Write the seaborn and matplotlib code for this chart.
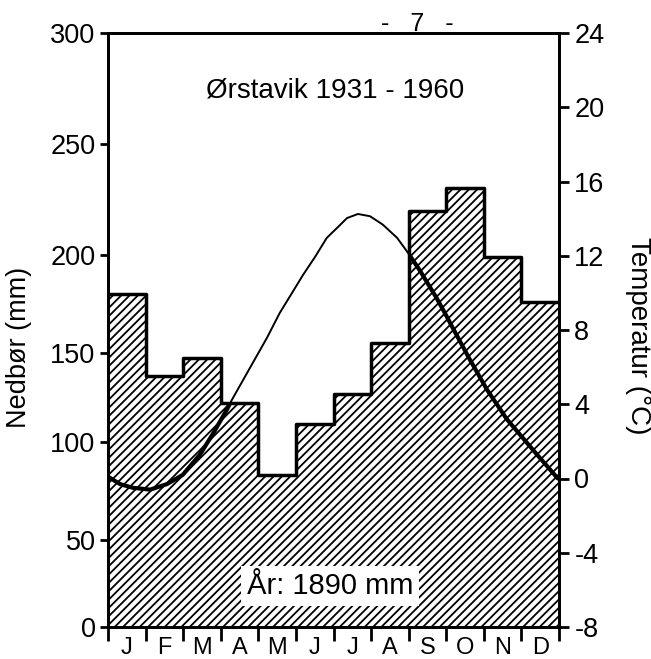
import numpy as np
import pandas as pd
import matplotlib
matplotlib.use("Agg")
import matplotlib.pyplot as plt
from matplotlib.patches import Polygon
import seaborn as sns

# monthly precipitation (mm)
months = ["J", "F", "M", "A", "M", "J", "J", "A", "S", "O", "N", "D"]
precip_mm = [180, 137, 147, 122, 83, 110, 127, 155, 220, 230, 199, 176]

# temperature curve (position in months from 1 Jan, deg C)
temp_pos = [0.0, 0.32, 0.66, 1.12, 1.57, 1.99, 2.45, 2.79, 3.16, 3.30, 3.78,
            4.23, 4.57, 4.84, 5.19, 5.51, 5.82, 6.09, 6.36, 6.65, 6.97, 7.31,
            7.69, 7.95, 8.30, 8.75, 9.02, 9.15, 9.63, 10.08, 10.61, 11.41, 11.97]
temp_c = [0.1, -0.3, -0.5, -0.6, -0.3, 0.2, 1.3, 2.4, 3.7, 4.25, 5.97,
          7.58, 8.92, 9.81, 10.97, 11.94, 12.96, 13.49, 14.03, 14.25, 14.13, 13.68,
          12.97, 12.25, 11.2, 9.7, 8.7, 8.2, 6.4, 4.8, 3.2, 1.3, 0.0]

precip_ticks = [0, 50, 100, 150, 200, 250, 300]
# where each precipitation tick sits on the (unevenly drawn) left axis, 0..1
precip_tick_frac = [0.0, 0.1465, 0.3114, 0.4613, 0.6263, 0.8131, 1.0]
temp_ticks = [-8, -4, 0, 4, 8, 12, 16, 20, 24]

title = "Ørstavik 1931 - 1960"
year_text = "År: 1890 mm"

sns.set_style("ticks")
plt.rcParams['font.family'] = ['Liberation Sans', 'DejaVu Sans']
plt.rcParams['hatch.linewidth'] = 1.3
plt.rcParams['axes.unicode_minus'] = False
for key in ('text.color', 'axes.labelcolor', 'xtick.color', 'ytick.color',
            'axes.edgecolor'):
    plt.rcParams[key] = 'black'

# piecewise-linear scale for the left axis
_mm = [-300] + precip_ticks + [600]
_fr = [-1.0] + precip_tick_frac + [2.0]


def mm_fwd(v):
    return np.interp(v, _mm, _fr)


def mm_inv(v):
    return np.interp(v, _fr, _mm)


fig = plt.figure(figsize=(6.51, 6.59), dpi=100)
ax = fig.add_axes([108 / 651, 1 - 627 / 659, 451 / 651, 594 / 659])

df = pd.DataFrame({'month': range(12), 'precip': precip_mm})
sns.barplot(data=df, x='month', y='precip', ax=ax, width=1.0, color='white',
            saturation=1, edgecolor='black', linewidth=0, hatch='////',
            errorbar=None)
ax.set_yscale('function', functions=(mm_fwd, mm_inv))

# outer step outline of the bars
edges = np.arange(13) - 0.5
ax.step(edges, precip_mm + [precip_mm[-1]], where='post', color='black', lw=2.5)

ax.set_xlim(-0.5, 11.5)
ax.set_ylim(0, 300)
ax.set_yticks(precip_ticks, labels=[str(t) for t in precip_ticks])
ax.yaxis.set_minor_locator(matplotlib.ticker.NullLocator())
ax.set_xticks(edges, labels=[''] * 13)
ax.set_xticks(range(12), labels=months, minor=True)
ax.tick_params(axis='x', which='major', length=10, width=2, direction='out')
ax.tick_params(axis='x', which='minor', length=0, pad=7, labelsize=17)
ax.tick_params(axis='y', length=6, width=2, pad=3, labelsize=19.5)
ax.set_xlabel('')
ax.set_ylabel('Nedbør (mm)', fontsize=19.5)
ax.yaxis.set_label_coords(-0.168, 0.47)

# temperature on the right axis
ax2 = ax.twinx()
tx = np.array(temp_pos) - 0.5
sns.lineplot(x=tx, y=temp_c, ax=ax2, color='black', lw=1.4, sort=False)
# heavier line where the curve runs through the hatched area
verts = [(-0.5, 0)]
for i, p in enumerate(precip_mm):
    verts += [(i - 0.5, p), (i + 0.5, p)]
verts += [(11.5, 0)]
clip = Polygon(verts, closed=True, transform=ax.transData)
thick, = ax2.plot(tx, temp_c, color='black', lw=3)
thick.set_clip_path(clip)

ax2.set_ylim(-8, 24)
ax2.set_yticks(temp_ticks)
ax2.tick_params(axis='y', length=7, width=2, pad=4, labelsize=19.5)
ax2.set_ylabel('Temperatur (°C)', fontsize=20, rotation=270, va='bottom')
ax2.yaxis.set_label_coords(1.146, 0.49)
ax.set_xlim(-0.5, 11.5)

for a in (ax, ax2):
    for s in a.spines.values():
        s.set_linewidth(2)
        s.set_color('black')

ax.text(0.503, 0.892, title, transform=ax.transAxes, ha='center',
        va='baseline', fontsize=20)
ax.text(0.492, 0.069, year_text, transform=ax.transAxes, ha='center',
        va='center', fontsize=21,
        bbox=dict(boxstyle='square,pad=0.2', fc='white', ec='none'))
fig.text(417 / 651, 1 - 31 / 659, "-   7   -", ha='center', va='baseline',
         fontsize=18)

plt.savefig('out.png', dpi=100)
